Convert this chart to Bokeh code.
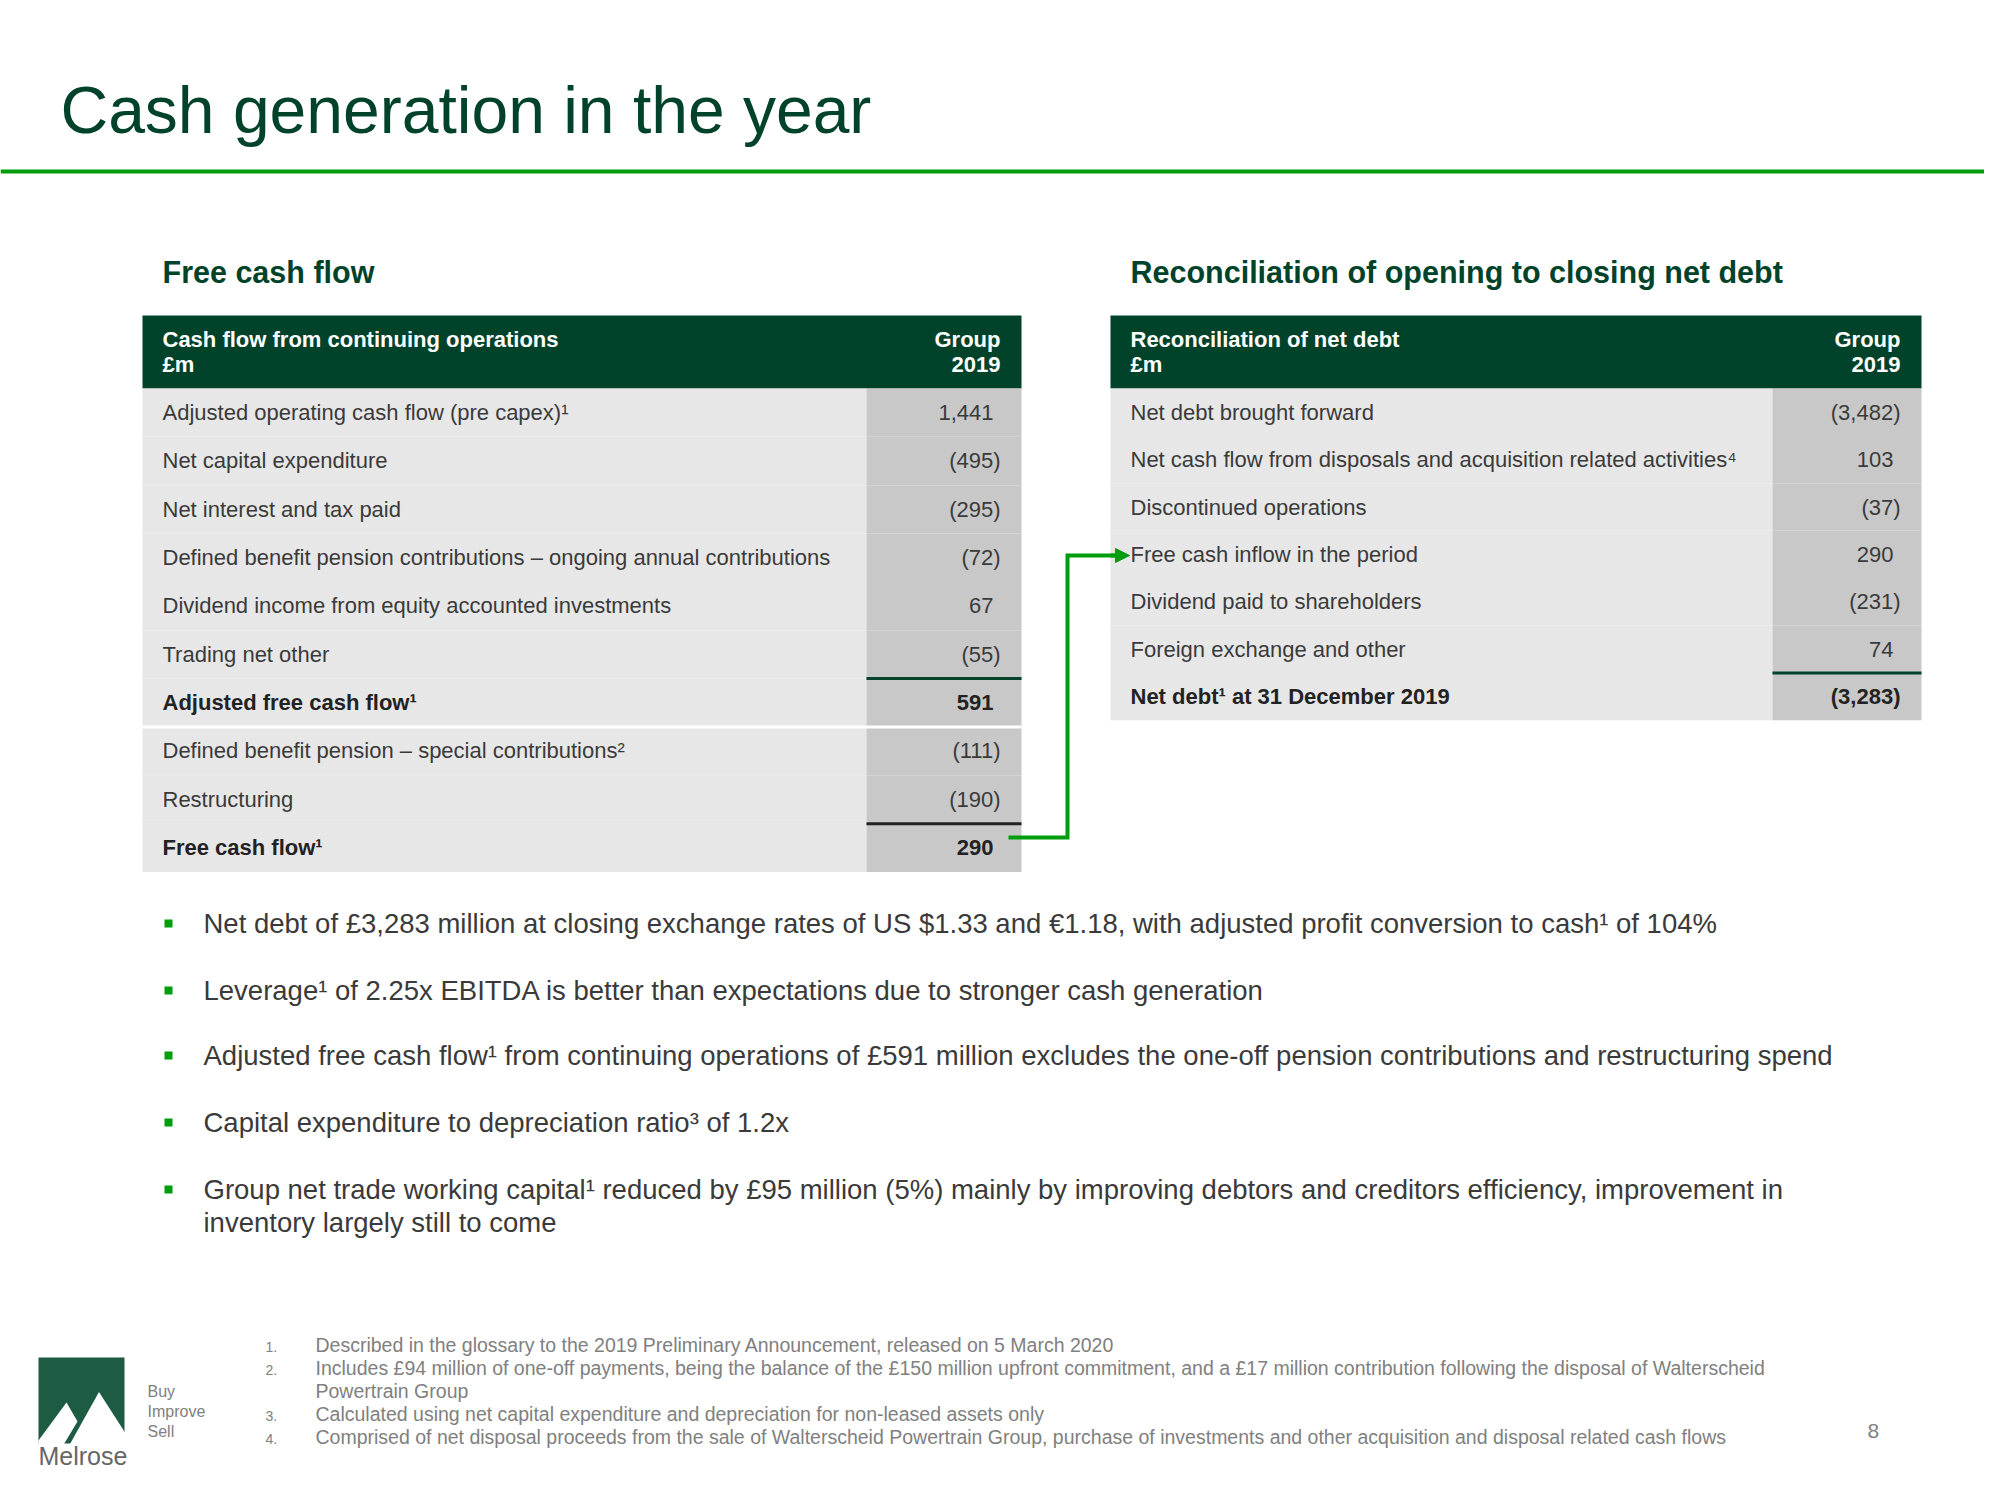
from bokeh.plotting import figure
from bokeh.models import Range1d, Arrow, NormalHead
from bokeh.core.properties import value
from bokeh.embed import file_html
from bokeh.resources import INLINE

# ---------------- data ----------------
title = "Cash generation in the year"
left_title = "Free cash flow"
right_title = "Reconciliation of opening to closing net debt"
left_header = ["Cash flow from continuing operations", "£m"]
right_header = ["Reconciliation of net debt", "£m"]
col_header = ["Group", "2019"]

left_labels = [
    "Adjusted operating cash flow (pre capex)¹",
    "Net capital expenditure",
    "Net interest and tax paid",
    "Defined benefit pension contributions – ongoing annual contributions",
    "Dividend income from equity accounted investments",
    "Trading net other",
    "Adjusted free cash flow¹",
    "Defined benefit pension – special contributions²",
    "Restructuring",
    "Free cash flow¹",
]
left_values = [1441, -495, -295, -72, 67, -55, 591, -111, -190, 290]
left_bold = [False, False, False, False, False, False, True, False, False, True]

right_labels = [
    "Net debt brought forward",
    "Net cash flow from disposals and acquisition related activities⁴",
    "Discontinued operations",
    "Free cash inflow in the period",
    "Dividend paid to shareholders",
    "Foreign exchange and other",
    "Net debt¹ at 31 December 2019",
]
right_values = [-3482, 103, -37, 290, -231, 74, -3283]
right_bold = [False, False, False, False, False, False, True]

bullets = [
    ["Net debt of £3,283 million at closing exchange rates of US $1.33 and €1.18, with adjusted profit conversion to cash¹ of 104%"],
    ["Leverage¹ of 2.25x EBITDA is better than expectations due to stronger cash generation"],
    ["Adjusted free cash flow¹ from continuing operations of £591 million excludes the one-off pension contributions and restructuring spend"],
    ["Capital expenditure to depreciation ratio³ of 1.2x"],
    ["Group net trade working capital¹ reduced by £95 million (5%) mainly by improving debtors and creditors efficiency, improvement in",
     "inventory largely still to come"],
]

footnote_nums = ["1.", "2.", "", "3.", "4."]
footnotes = [
    "Described in the glossary to the 2019 Preliminary Announcement, released on 5 March 2020",
    "Includes £94 million of one-off payments, being the balance of the £150 million upfront commitment, and a £17 million contribution following the disposal of Walterscheid",
    "Powertrain Group",
    "Calculated using net capital expenditure and depreciation for non-leased assets only",
    "Comprised of net disposal proceeds from the sale of Walterscheid Powertrain Group, purchase of investments and other acquisition and disposal related cash flows",
]
tagline = ["Buy", "Improve", "Sell"]
brand = "Melrose"
page_number = "8"

# ---------------- styles ----------------
DARK = "#00432a"
GREEN = "#009e0f"
BODY = "#e7e7e7"
VALCOL = "#c8c8c8"
TXT = "#3a3a3a"
GREY = "#808080"
FONT = value("Liberation Sans")
ROWF = 22
K = 0.37  # baseline correction


def fmt(v):
    return f"({abs(v):,})" if v < 0 else f"{v:,}"


p = figure(width=1984, height=1484, x_range=Range1d(0, 1984), y_range=Range1d(1484, 0),
           output_backend="svg", toolbar_location=None, min_border=0)
p.axis.visible = False
p.grid.visible = False
p.outline_line_color = None
p.background_fill_color = "white"


def txt(x, y, t, size, color=TXT, align="left", bold=False):
    p.text(x=[x], y=[y - K * size], text=[t], text_font=FONT, text_font_size=f"{size}px",
           text_color=color, text_align=align, text_baseline="alphabetic",
           text_font_style="bold" if bold else "normal")


# title and rule
txt(60, 134, title, 66, DARK)
p.quad(left=[0], right=[2000], top=[169], bottom=[173], color=GREEN, line_color=None)


def table(x0, x1, xv, labels, values, bold, step, subtitle, header, seps, gaps):
    n = len(labels)
    top = 388
    txt(x0 + 20, 283, subtitle, 30.5, DARK, bold=True)
    p.quad(left=[x0], right=[x1], top=[315], bottom=[top], color=DARK, line_color=None)
    txt(x0 + 20, 347, header[0], 22, "white", bold=True)
    txt(x0 + 20, 372, header[1], 22, "white", bold=True)
    txt(x1 - 21, 347, col_header[0], 22, "white", align="right", bold=True)
    txt(x1 - 21, 372, col_header[1], 22, "white", align="right", bold=True)
    tops = [top + i * step for i in range(n)]
    bots = [top + (i + 1) * step for i in range(n)]
    p.quad(left=[x0] * n, right=[xv] * n, top=tops, bottom=bots, color=BODY, line_color=None)
    p.quad(left=[xv] * n, right=[x1] * n, top=tops, bottom=bots, color=VALCOL, line_color=None)
    for i in range(n):
        yb = tops[i] + 32
        c = "#222222" if bold[i] else TXT
        txt(x0 + 20, yb, labels[i], ROWF, c, bold=bold[i])
        xr = x1 - 21 if values[i] < 0 else x1 - 28
        txt(xr, yb, fmt(values[i]), ROWF, c, align="right", bold=bold[i])
    for i, c in seps:
        p.quad(left=[xv], right=[x1], top=[tops[i] - 1.5], bottom=[tops[i] + 1.5], color=c, line_color=None)
    for i in gaps:
        p.quad(left=[x0], right=[x1], top=[bots[i] - 1.5], bottom=[bots[i] + 1.5], color="white", line_color=None)


table(142, 1021, 866, left_labels, left_values, left_bold, 48.35, left_title, left_header,
      seps=[(6, DARK), (9, "#222222")], gaps=[6])
table(1110, 1921, 1772, right_labels, right_values, right_bold, 47.4, right_title, right_header,
      seps=[(6, DARK)], gaps=[])

# connector arrow
p.line(x=[1008, 1067, 1067, 1118], y=[837, 837, 555, 555], line_color=GREEN, line_width=4,
       line_join="miter")
p.add_layout(Arrow(x_start=1110, y_start=555, x_end=1129, y_end=555, line_color=GREEN, line_width=4,
                   end=NormalHead(size=14, fill_color=GREEN, line_color=GREEN)))

# bullets
yb = [933, 1000, 1065, 1132, 1199]
for i, b in enumerate(bullets):
    p.quad(left=[164], right=[172], top=[yb[i] - 14], bottom=[yb[i] - 6], color=GREEN, line_color=None)
    for j, line in enumerate(b):
        txt(203, yb[i] + j * 33, line, 27.5, TXT)

# footnotes
fy = [1352, 1375, 1398, 1421, 1444]
for i in range(len(footnotes)):
    if footnote_nums[i]:
        txt(265, fy[i], footnote_nums[i], 14, GREY)
    txt(315, fy[i], footnotes[i], 19.5, GREY)

# logo
LOGO = "#1d5b43"
p.quad(left=[38], right=[124], top=[1357], bottom=[1443], color=LOGO, line_color=None)
p.patch(x=[38, 66, 77, 63.5, 38], y=[1440, 1402, 1421, 1443.5, 1443.5], color="white", line_color=None)
p.patch(x=[69.5, 98.5, 124.5, 124.5], y=[1443.5, 1391.5, 1432, 1443.5], color="white", line_color=None)
txt(38, 1465, brand, 25, "#666666")
for i, t in enumerate(tagline):
    txt(147, 1397 + i * 20, t, 16, GREY)

txt(1867, 1438, page_number, 21, GREY)

open("out.html", "w").write(file_html(p, INLINE))
